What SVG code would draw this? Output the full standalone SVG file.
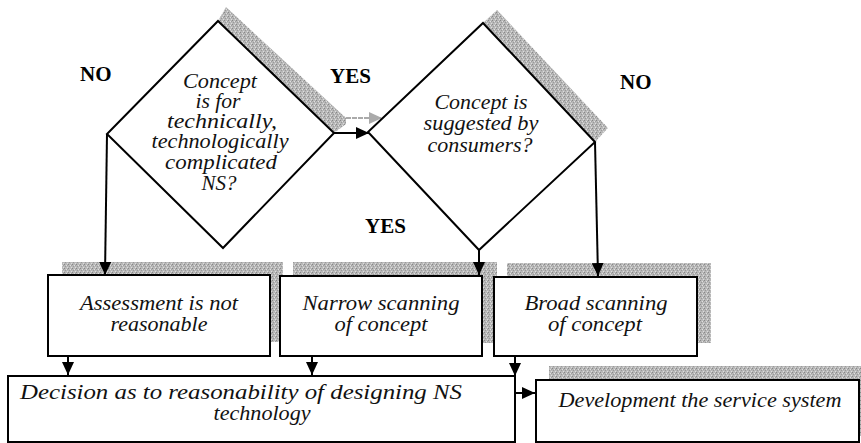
<svg xmlns="http://www.w3.org/2000/svg" width="861" height="443" viewBox="0 0 861 443">
<style>
.shape{fill:#fff;stroke:#000;stroke-width:2}
.sh{fill:url(#stip);stroke:none}
.t{font-family:serif;font-style:italic;font-size:20px;fill:#111;text-anchor:middle}
.lbl{font-family:serif;font-weight:bold;font-size:21px;fill:#000}
.c{fill:none;stroke:#000;stroke-width:2}
</style>
<defs>
<pattern id="stip" width="4" height="4" patternUnits="userSpaceOnUse">
<rect width="4" height="4" fill="#b8b8b8"/>
<rect x="0" y="0" width="1" height="1" fill="#888"/>
<rect x="2" y="1" width="1" height="1" fill="#e0e0e0"/>
<rect x="1" y="2" width="1" height="1" fill="#999"/>
<rect x="3" y="3" width="1" height="1" fill="#ddd"/>
<rect x="3" y="1" width="1" height="1" fill="#a0a0a0"/>
</pattern>
<marker id="ah" markerWidth="13" markerHeight="12" refX="13" refY="6" orient="auto" markerUnits="userSpaceOnUse">
<path d="M0,0 L13,6 L0,12 z" fill="#000"/>
</marker>
<marker id="ahg" markerWidth="13" markerHeight="12" refX="13" refY="6" orient="auto" markerUnits="userSpaceOnUse">
<path d="M0,0 L13,6 L0,12 z" fill="#aaa"/>
</marker>
</defs>

<g id="shadows">
<polygon class="sh" points="218,21 226,7 346,118 346,124 334,133"/>
<polygon class="sh" points="483,23 497,10 608,128 595,142"/>
<rect class="sh" x="62" y="262" width="221" height="80"/>
<rect class="sh" x="293" y="262" width="204" height="81"/>
<rect class="sh" x="507" y="263" width="204" height="80"/>
<rect class="sh" x="549" y="366" width="320" height="70"/>
</g>

<g id="connectors">
<line x1="346" y1="118" x2="382" y2="118" stroke="#aaa" stroke-width="2" stroke-dasharray="5,1" marker-end="url(#ahg)"/>
<line class="c" x1="334" y1="133" x2="369" y2="133" marker-end="url(#ah)"/>
<line class="c" x1="107" y1="134" x2="105" y2="275" marker-end="url(#ah)"/>
<line class="c" x1="479" y1="250" x2="479" y2="275" marker-end="url(#ah)"/>
<line class="c" x1="595" y1="142" x2="598" y2="276" marker-end="url(#ah)"/>
<line class="c" x1="68" y1="356" x2="68" y2="375" marker-end="url(#ah)"/>
<line class="c" x1="312" y1="356" x2="312" y2="375" marker-end="url(#ah)"/>
<line class="c" x1="515" y1="356" x2="515" y2="376" marker-end="url(#ah)"/>
<line class="c" x1="515" y1="393" x2="535" y2="393" marker-end="url(#ah)"/>
</g>

<g id="d1">
<polygon class="shape" points="218,21 334,133 223,248 107,134"/>
<text class="t" x="220" y="88" textLength="74" lengthAdjust="spacingAndGlyphs">Concept</text>
<text class="t" x="218" y="108" textLength="45" lengthAdjust="spacingAndGlyphs">is for</text>
<text class="t" x="222" y="128" textLength="110" lengthAdjust="spacingAndGlyphs">technically,</text>
<text class="t" x="220" y="148" textLength="137" lengthAdjust="spacingAndGlyphs">technologically</text>
<text class="t" x="221" y="169" textLength="112" lengthAdjust="spacingAndGlyphs">complicated</text>
<text class="t" x="219" y="190" textLength="35" lengthAdjust="spacingAndGlyphs">NS?</text>
</g>

<g id="d2">
<polygon class="shape" points="483,23 595,142 479,250 368,132"/>
<text class="t" x="481" y="109" textLength="93" lengthAdjust="spacingAndGlyphs">Concept is</text>
<text class="t" x="481" y="130" textLength="115" lengthAdjust="spacingAndGlyphs">suggested by</text>
<text class="t" x="480" y="152" textLength="105" lengthAdjust="spacingAndGlyphs">consumers?</text>
</g>

<g id="labels">
<text class="lbl" x="80" y="81">NO</text>
<text class="lbl" x="330" y="83">YES</text>
<text class="lbl" x="620" y="89">NO</text>
<text class="lbl" x="365" y="233">YES</text>
</g>

<g id="boxA">
<rect class="shape" x="48" y="275" width="222" height="81"/>
<text class="t" x="159" y="310" textLength="158" lengthAdjust="spacingAndGlyphs">Assessment is not</text>
<text class="t" x="159" y="331" textLength="97" lengthAdjust="spacingAndGlyphs">reasonable</text>
</g>

<g id="boxB">
<rect class="shape" x="280" y="276" width="202" height="80"/>
<text class="t" x="381" y="310" textLength="157" lengthAdjust="spacingAndGlyphs">Narrow scanning</text>
<text class="t" x="381" y="331" textLength="93" lengthAdjust="spacingAndGlyphs">of concept</text>
</g>

<g id="boxC">
<rect class="shape" x="494" y="277" width="203" height="79"/>
<text class="t" x="596" y="310" textLength="143" lengthAdjust="spacingAndGlyphs">Broad scanning</text>
<text class="t" x="595" y="331" textLength="94" lengthAdjust="spacingAndGlyphs">of concept</text>
</g>

<g id="boxD">
<rect class="shape" x="8" y="376" width="507" height="66"/>
<text class="t" x="241" y="399" textLength="442" lengthAdjust="spacingAndGlyphs">Decision as to reasonability of designing NS</text>
<text class="t" x="262" y="420" textLength="97" lengthAdjust="spacingAndGlyphs">technology</text>
</g>

<g id="boxE">
<rect class="shape" x="536" y="380" width="323" height="62"/>
<text class="t" x="700" y="407" textLength="283" lengthAdjust="spacingAndGlyphs">Development the service system</text>
</g>
</svg>
